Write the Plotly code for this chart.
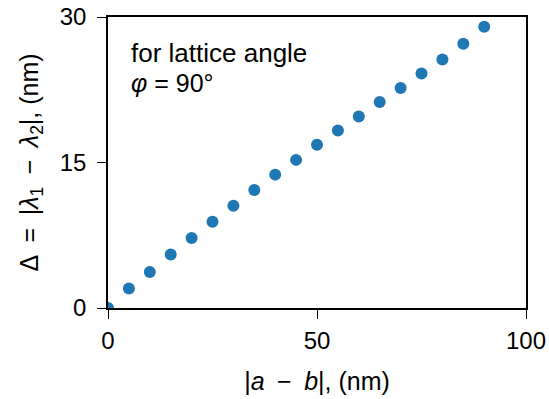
import plotly.graph_objects as go

# |a - b| in nm
size_diff = [0, 5, 10, 15, 20, 25, 30, 35, 40, 45, 50, 55, 60, 65, 70, 75, 80, 85, 90]
# Delta = |lambda1 - lambda2| in nm
delta = [0.0, 2.0, 3.72, 5.52, 7.21, 8.89, 10.55, 12.17, 13.75, 15.27, 16.82,
         18.3, 19.75, 21.24, 22.69, 24.17, 25.62, 27.24, 29.0]

x_ticks = [0, 50, 100]
y_ticks = [0, 15, 30]

font_family = "Liberation Sans, Arial, sans-serif"
EN = "\u2002"  # wider gap around binary operators, like typeset math

fig = go.Figure()
fig.add_trace(go.Scatter(
    x=size_diff, y=delta, mode="markers",
    marker=dict(color="#1f77b4", size=12, line=dict(width=0)),
    cliponaxis=True, showlegend=False,
))

axis_common = dict(
    showline=True, linecolor="black", linewidth=1.6, mirror=True,
    ticks="outside", ticklen=9, tickwidth=1.3, tickcolor="black",
    showgrid=False, zeroline=False, automargin=False,
    tickfont=dict(family=font_family, size=24, color="black"),
)

fig.update_layout(
    width=549, height=399,
    margin=dict(l=108, r=23, t=17, b=91),
    paper_bgcolor="white", plot_bgcolor="white",
    font=dict(family=font_family, color="black"),
    xaxis=dict(range=[0, 100], tickvals=x_ticks, ticklabelstandoff=1, **axis_common,
               title=dict(text=f"|<i>a</i>{EN}−{EN}<i>b</i>|, (nm)",
                          font=dict(family=font_family, size=25), standoff=20)),
    yaxis=dict(range=[0, 30], tickvals=y_ticks, ticklabelstandoff=6, **axis_common,
               title=dict(text=(f"Δ{EN}={EN}|<i>λ</i><sub>1</sub>{EN}−{EN}"
                                f"<i>λ</i><sub>2</sub>|, (nm)"),
                          font=dict(family=font_family, size=25), standoff=14)),
    annotations=[
        dict(x=0.05, y=0.877, xref="paper", yref="paper",
             xanchor="left", yanchor="middle", showarrow=False,
             text="for lattice angle",
             font=dict(family=font_family, size=26, color="black")),
        dict(x=0.05, y=0.774, xref="paper", yref="paper",
             xanchor="left", yanchor="middle", showarrow=False,
             text="<i>φ</i> = 90°",
             font=dict(family=font_family, size=25, color="black")),
    ],
)

fig.write_html("out.html")
